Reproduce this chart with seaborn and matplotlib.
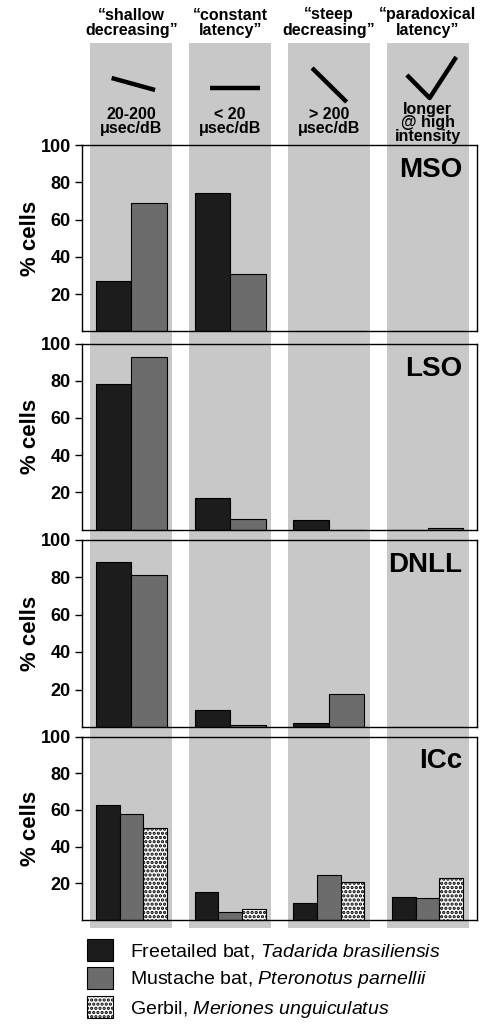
import numpy as np
import pandas as pd
import seaborn as sns
import matplotlib
matplotlib.use("Agg")
import matplotlib.pyplot as plt
from matplotlib.patches import Rectangle, Patch
from matplotlib.transforms import blended_transform_factory

sns.set_style("white")
plt.rcParams['font.family'] = ['Liberation Sans', 'DejaVu Sans']
plt.rcParams['mathtext.fontset'] = 'custom'
plt.rcParams['mathtext.it'] = 'Liberation Sans:italic'
plt.rcParams['mathtext.rm'] = 'Liberation Sans'
plt.rcParams['hatch.linewidth'] = 1.6
for k in ['text.color', 'axes.labelcolor', 'xtick.color', 'ytick.color']:
    plt.rcParams[k] = 'black'

# ---------------- data ----------------
patterns = ["shallow", "constant", "steep", "paradoxical"]
header_titles = ["\u201cshallow\ndecreasing\u201d", "\u201cconstant\nlatency\u201d",
                 "\u201csteep\ndecreasing\u201d", "\u201cparadoxical\nlatency\u201d"]
header_ranges = ["20-200\n\u03bcsec/dB", "< 20\n\u03bcsec/dB", "> 200\n\u03bcsec/dB",
                 "longer\n@ high\nintensity"]
species = ["Freetailed bat", "Mustache bat", "Gerbil"]
species_latin = ["Tadarida\\ brasiliensis", "Pteronotus\\ parnellii", "Meriones\\ unguiculatus"]
nuclei = ["MSO", "LSO", "DNLL", "ICc"]

mso_freetailed = [27, 74, 0, 0]
mso_mustache = [69, 31, 0, 0]
lso_freetailed = [78, 17, 5, 0]
lso_mustache = [93, 5.5, 0, 0.8]
dnll_freetailed = [88, 9, 2, 0]
dnll_mustache = [81, 1, 17.5, 0]
icc_freetailed = [62.5, 15, 9.5, 12.3]
icc_mustache = [58, 4.5, 24.5, 12]
icc_gerbil = [50, 5.8, 20.5, 22.7]

panel_data = {
    "MSO": {"Freetailed bat": mso_freetailed, "Mustache bat": mso_mustache},
    "LSO": {"Freetailed bat": lso_freetailed, "Mustache bat": lso_mustache},
    "DNLL": {"Freetailed bat": dnll_freetailed, "Mustache bat": dnll_mustache},
    "ICc": {"Freetailed bat": icc_freetailed, "Mustache bat": icc_mustache,
            "Gerbil": icc_gerbil},
}
yticks = [20, 40, 60, 80, 100]

# ---------------- styles ----------------
colors = {"Freetailed bat": "#1c1c1c", "Mustache bat": "#6c6c6c", "Gerbil": "#ffffff"}
hatches = {"Freetailed bat": None, "Mustache bat": None, "Gerbil": "...."}
bg_gray = "#c8c8c8"

W, H = 481, 1033
fig = plt.figure(figsize=(W / 100, H / 100), dpi=100)

def fx(px):
    return px / W

def fy(py):
    return 1 - py / H

left_px, right_px = 82, 477
panel_px = [(145, 331.5), (343.5, 529.5), (539.5, 727), (736.5, 920)]

axes = []
for (top, bot), name in zip(panel_px, nuclei):
    ax = fig.add_axes([fx(left_px), fy(bot), fx(right_px - left_px), (bot - top) / H])
    ax.set_facecolor("none")
    d = panel_data[name]
    rows = []
    for sp, vals in d.items():
        for p, v in zip(patterns, vals):
            rows.append({"pattern": p, "pct": v, "species": sp})
    df = pd.DataFrame(rows)
    hue_order = [s for s in species if s in d]
    sns.barplot(data=df, x="pattern", y="pct", hue="species", order=patterns,
                hue_order=hue_order, palette=colors, width=0.72, ax=ax,
                edgecolor="black", linewidth=0.8, saturation=1, legend=False,
                errorbar=None)
    for container, sp in zip(ax.containers, hue_order):
        for bar in container:
            if hatches[sp]:
                bar.set_hatch(hatches[sp])
    ax.set_xlim(-0.5, 3.5)
    ax.set_ylim(0, 100)
    ax.set_yticks(yticks)
    ax.set_yticklabels([str(t) for t in yticks], fontsize=13, fontweight="bold")
    ax.set_xticks([])
    ax.set_xlabel("")
    ax.set_ylabel("% cells", fontsize=16, fontweight="bold", labelpad=0)
    ax.tick_params(axis="y", direction="out", length=5, width=1, pad=3, left=True)
    for s in ax.spines.values():
        s.set_visible(True)
        s.set_color("black")
        s.set_linewidth(1.0)
    ax.text(0.962, 0.865, name, transform=ax.transAxes, ha="right", va="center",
            fontsize=20, fontweight="bold")
    axes.append(ax)

# background gray columns spanning header to bottom
tr = blended_transform_factory(axes[0].transData, fig.transFigure)
col_w = 0.83
for i in range(4):
    r = Rectangle((i - col_w / 2, fy(928)), col_w, fy(43) - fy(928), transform=tr,
                  facecolor=bg_gray, edgecolor="none", zorder=-5)
    fig.add_artist(r)
    fig.text(i, fy(22.5), header_titles[i], transform=tr,
             ha="center", va="center", fontsize=11.5, fontweight="bold", linespacing=1.0)

# header icons and range labels
hdr = fig.add_axes([fx(left_px), fy(145), fx(right_px - left_px), (145 - 43) / H])
hdr.set_xlim(-0.5, 3.5)
hdr.set_ylim(145, 43)
hdr.axis("off")
hdr.set_facecolor("none")
icon_lines = [
    ([-0.2, 0.24], [78, 90]),
    ([0.8, 1.3], [88, 88]),
    ([1.83, 2.18], [68, 102]),
    ([2.79, 3.02, 3.29], [75, 98, 57]),
]
for xs, ys in icon_lines:
    hdr.plot(xs, ys, color="black", lw=3.2, solid_capstyle="butt")
range_y = [121.5, 121.5, 121.5, 123]
for i, txt in enumerate(header_ranges):
    hdr.text(i, range_y[i], txt, ha="center", va="center", fontsize=11.5,
             fontweight="bold", linespacing=0.9)

# legend
handles = [Patch(facecolor=colors[s], edgecolor="black", hatch=hatches[s], linewidth=0.8)
           for s in species]
labels = [f"{s}, $\\it{{{l}}}$" for s, l in zip(species, species_latin)]
fig.legend(handles, labels, loc="upper left", bbox_to_anchor=(fx(87), fy(939)),
           frameon=False, fontsize=14, handlelength=1.36, handleheight=1.36,
           handletextpad=0.85, labelspacing=0.3, borderpad=0, borderaxespad=0)

fig.savefig("out.png", dpi=100)
